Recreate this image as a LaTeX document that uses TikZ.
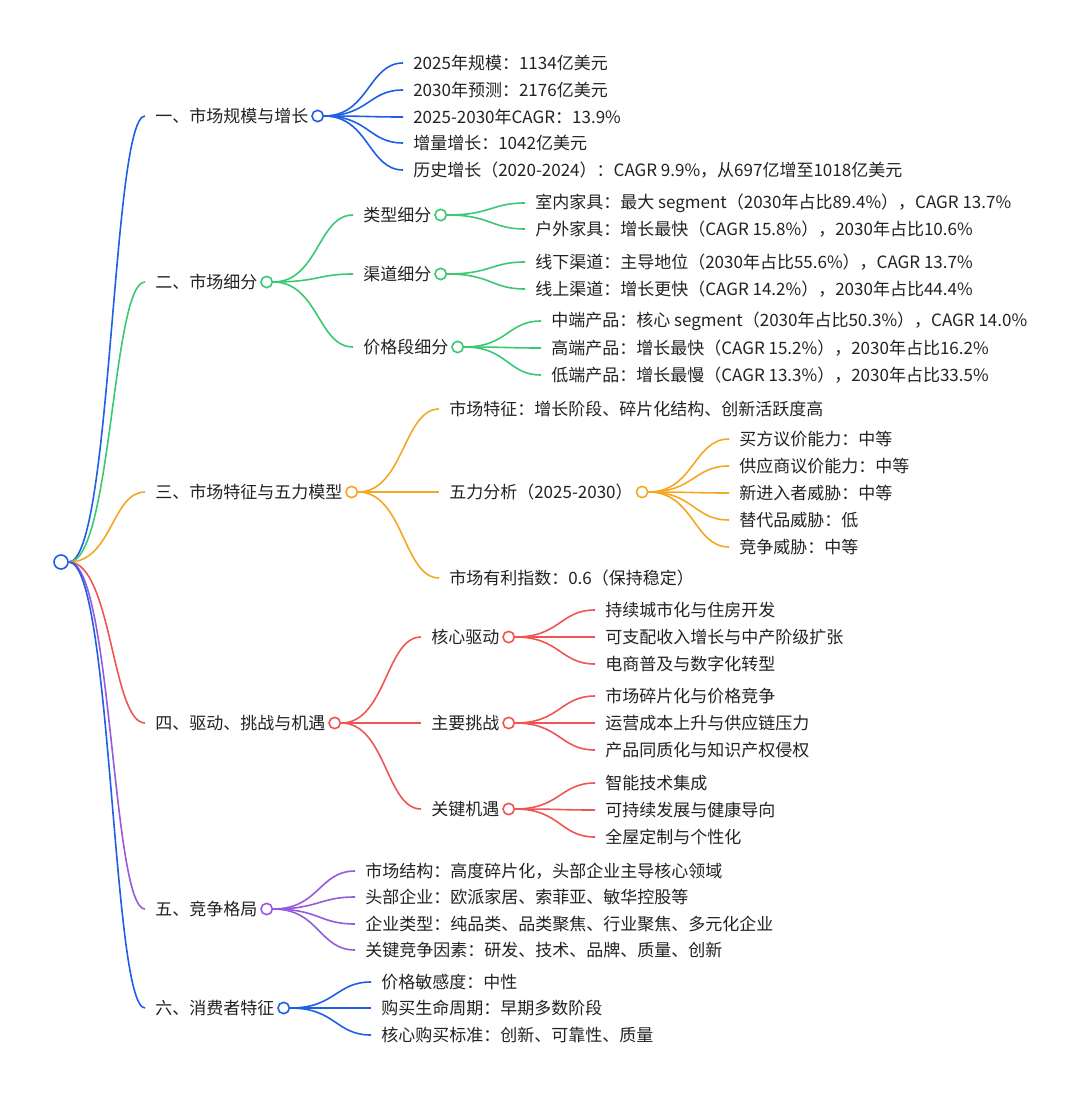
\documentclass[tikz,border=0pt]{standalone}
\usepackage{fontspec}
\setmainfont{Noto Sans CJK SC}
\usepackage{xcolor}
\usepackage{tikz}
\usetikzlibrary{positioning, calc}

\definecolor{mblue}{RGB}{30,95,230}
\definecolor{mgreen}{RGB}{60,200,115}
\definecolor{morange}{RGB}{245,166,35}
\definecolor{mred}{RGB}{240,85,85}
\definecolor{mpurple}{RGB}{150,90,220}
\definecolor{textdark}{RGB}{34,34,34}

\begin{document}
\begin{tikzpicture}[
        x=0.75pt, y=-0.75pt,
        topic/.style = {anchor=west, inner xsep=0pt, inner ysep=1pt, text=textdark, font=\fontsize{12.75}{15}\selectfont},
        hub/.style = {circle, draw=#1, line width=1.2pt, fill=white, minimum size=8.5pt, inner sep=0pt},
        curve/.style = {to path={let \p1=(\tikztostart), \p2=(\tikztotarget) in .. controls ({(\x1+\x2)/2},\y1) and ({(\x1+\x2)/2},\y2) .. (\tikztotarget)}},
        link/.style = {draw=#1, line width=1.2pt, shorten >=7.5pt, curve}
    ]
    \useasboundingbox (0,0) rectangle (1080,1098);

    % --- ROOT ---
    \node[hub=mblue, minimum size=10.5pt] (root) at (61,562) {};

    % --- LEVEL 1 ---
    \node[topic] (n1) at (155,116) {一、市场规模与增长};
    \node[topic] (n2) at (155,282) {二、市场细分};
    \node[topic] (n3) at (155,492) {三、市场特征与五力模型};
    \node[topic] (n4) at (155,723) {四、驱动、挑战与机遇};
    \node[topic] (n5) at (155,909) {五、竞争格局};
    \node[topic] (n6) at (155,1008) {六、消费者特征};

    \node[hub=mblue, right=2pt of n1] (h1) {};
    \node[hub=mgreen, right=2pt of n2] (h2) {};
    \node[hub=morange, right=2pt of n3] (h3) {};
    \node[hub=mred, right=2pt of n4] (h4) {};
    \node[hub=mpurple, right=2pt of n5] (h5) {};
    \node[hub=mblue, right=2pt of n6] (h6) {};

    % --- 一、市场规模与增长 ---
    \node[topic] (n1a) at (413,63) {2025年规模：1134亿美元};
    \node[topic] (n1b) at (413,90) {2030年预测：2176亿美元};
    \node[topic] (n1c) at (413,117) {2025-2030年CAGR：13.9\%};
    \node[topic] (n1d) at (413,143) {增量增长：1042亿美元};
    \node[topic] (n1e) at (413,170) {历史增长（2020-2024）：CAGR 9.9\%，从697亿增至1018亿美元};

    % --- 二、市场细分 ---
    \node[topic] (n2a) at (363,215) {类型细分};
    \node[topic] (n2b) at (363,274) {渠道细分};
    \node[topic] (n2c) at (363,347) {价格段细分};
    \node[hub=mgreen, right=2pt of n2a] (h2a) {};
    \node[hub=mgreen, right=2pt of n2b] (h2b) {};
    \node[hub=mgreen, right=2pt of n2c] (h2c) {};

    \node[topic] (n2a1) at (535,203) {室内家具：最大 segment（2030年占比89.4\%），CAGR 13.7\%};
    \node[topic] (n2a2) at (535,229) {户外家具：增长最快（CAGR 15.8\%），2030年占比10.6\%};
    \node[topic] (n2b1) at (535,262) {线下渠道：主导地位（2030年占比55.6\%），CAGR 13.7\%};
    \node[topic] (n2b2) at (535,289) {线上渠道：增长更快（CAGR 14.2\%），2030年占比44.4\%};
    \node[topic] (n2c1) at (551,321) {中端产品：核心 segment（2030年占比50.3\%），CAGR 14.0\%};
    \node[topic] (n2c2) at (551,348) {高端产品：增长最快（CAGR 15.2\%），2030年占比16.2\%};
    \node[topic] (n2c3) at (551,375) {低端产品：增长最慢（CAGR 13.3\%），2030年占比33.5\%};

    % --- 三、市场特征与五力模型 ---
    \node[topic] (n3a) at (449,409) {市场特征：增长阶段、碎片化结构、创新活跃度高};
    \node[topic] (n3b) at (449,492) {五力分析（2025-2030）};
    \node[topic] (n3c) at (449,578) {市场有利指数：0.6（保持稳定）};
    \node[hub=morange, right=2pt of n3b] (h3b) {};

    \node[topic] (n3b1) at (739,439) {买方议价能力：中等};
    \node[topic] (n3b2) at (739,466) {供应商议价能力：中等};
    \node[topic] (n3b3) at (739,493) {新进入者威胁：中等};
    \node[topic] (n3b4) at (739,520) {替代品威胁：低};
    \node[topic] (n3b5) at (739,547) {竞争威胁：中等};

    % --- 四、驱动、挑战与机遇 ---
    \node[topic] (n4a) at (431,637) {核心驱动};
    \node[topic] (n4b) at (431,723) {主要挑战};
    \node[topic] (n4c) at (431,809) {关键机遇};
    \node[hub=mred, right=2pt of n4a] (h4a) {};
    \node[hub=mred, right=2pt of n4b] (h4b) {};
    \node[hub=mred, right=2pt of n4c] (h4c) {};

    \node[topic] (n4a1) at (605,610) {持续城市化与住房开发};
    \node[topic] (n4a2) at (605,637) {可支配收入增长与中产阶级扩张};
    \node[topic] (n4a3) at (605,664) {电商普及与数字化转型};
    \node[topic] (n4b1) at (605,696) {市场碎片化与价格竞争};
    \node[topic] (n4b2) at (605,723) {运营成本上升与供应链压力};
    \node[topic] (n4b3) at (605,750) {产品同质化与知识产权侵权};
    \node[topic] (n4c1) at (605,783) {智能技术集成};
    \node[topic] (n4c2) at (605,810) {可持续发展与健康导向};
    \node[topic] (n4c3) at (605,837) {全屋定制与个性化};

    % --- 五、竞争格局 ---
    \node[topic] (n5a) at (365,871) {市场结构：高度碎片化，头部企业主导核心领域};
    \node[topic] (n5b) at (365,897) {头部企业：欧派家居、索菲亚、敏华控股等};
    \node[topic] (n5c) at (365,924) {企业类型：纯品类、品类聚焦、行业聚焦、多元化企业};
    \node[topic] (n5d) at (365,950) {关键竞争因素：研发、技术、品牌、质量、创新};

    % --- 六、消费者特征 ---
    \node[topic] (n6a) at (381,982) {价格敏感度：中性};
    \node[topic] (n6b) at (381,1008) {购买生命周期：早期多数阶段};
    \node[topic] (n6c) at (381,1035) {核心购买标准：创新、可靠性、质量};

    % --- CONNECTORS ---
    \draw[link=mblue] (root.east) to (n1.west);
    \draw[link=mgreen] (root.east) to (n2.west);
    \draw[link=morange] (root.east) to (n3.west);
    \draw[link=mred] (root.east) to (n4.west);
    \draw[link=mpurple] (root.east) to (n5.west);
    \draw[link=mblue] (root.east) to (n6.west);

    \draw[link=mblue] (h1.east) to (n1a.west);
    \draw[link=mblue] (h1.east) to (n1b.west);
    \draw[link=mblue] (h1.east) to (n1c.west);
    \draw[link=mblue] (h1.east) to (n1d.west);
    \draw[link=mblue] (h1.east) to (n1e.west);

    \draw[link=mgreen] (h2.east) to (n2a.west);
    \draw[link=mgreen] (h2.east) to (n2b.west);
    \draw[link=mgreen] (h2.east) to (n2c.west);
    \draw[link=mgreen] (h2a.east) to (n2a1.west);
    \draw[link=mgreen] (h2a.east) to (n2a2.west);
    \draw[link=mgreen] (h2b.east) to (n2b1.west);
    \draw[link=mgreen] (h2b.east) to (n2b2.west);
    \draw[link=mgreen] (h2c.east) to (n2c1.west);
    \draw[link=mgreen] (h2c.east) to (n2c2.west);
    \draw[link=mgreen] (h2c.east) to (n2c3.west);

    \draw[link=morange] (h3.east) to (n3a.west);
    \draw[link=morange] (h3.east) to (n3b.west);
    \draw[link=morange] (h3.east) to (n3c.west);
    \draw[link=morange] (h3b.east) to (n3b1.west);
    \draw[link=morange] (h3b.east) to (n3b2.west);
    \draw[link=morange] (h3b.east) to (n3b3.west);
    \draw[link=morange] (h3b.east) to (n3b4.west);
    \draw[link=morange] (h3b.east) to (n3b5.west);

    \draw[link=mred] (h4.east) to (n4a.west);
    \draw[link=mred] (h4.east) to (n4b.west);
    \draw[link=mred] (h4.east) to (n4c.west);
    \draw[link=mred] (h4a.east) to (n4a1.west);
    \draw[link=mred] (h4a.east) to (n4a2.west);
    \draw[link=mred] (h4a.east) to (n4a3.west);
    \draw[link=mred] (h4b.east) to (n4b1.west);
    \draw[link=mred] (h4b.east) to (n4b2.west);
    \draw[link=mred] (h4b.east) to (n4b3.west);
    \draw[link=mred] (h4c.east) to (n4c1.west);
    \draw[link=mred] (h4c.east) to (n4c2.west);
    \draw[link=mred] (h4c.east) to (n4c3.west);

    \draw[link=mpurple] (h5.east) to (n5a.west);
    \draw[link=mpurple] (h5.east) to (n5b.west);
    \draw[link=mpurple] (h5.east) to (n5c.west);
    \draw[link=mpurple] (h5.east) to (n5d.west);

    \draw[link=mblue] (h6.east) to (n6a.west);
    \draw[link=mblue] (h6.east) to (n6b.west);
    \draw[link=mblue] (h6.east) to (n6c.west);

\end{tikzpicture}
\end{document}
